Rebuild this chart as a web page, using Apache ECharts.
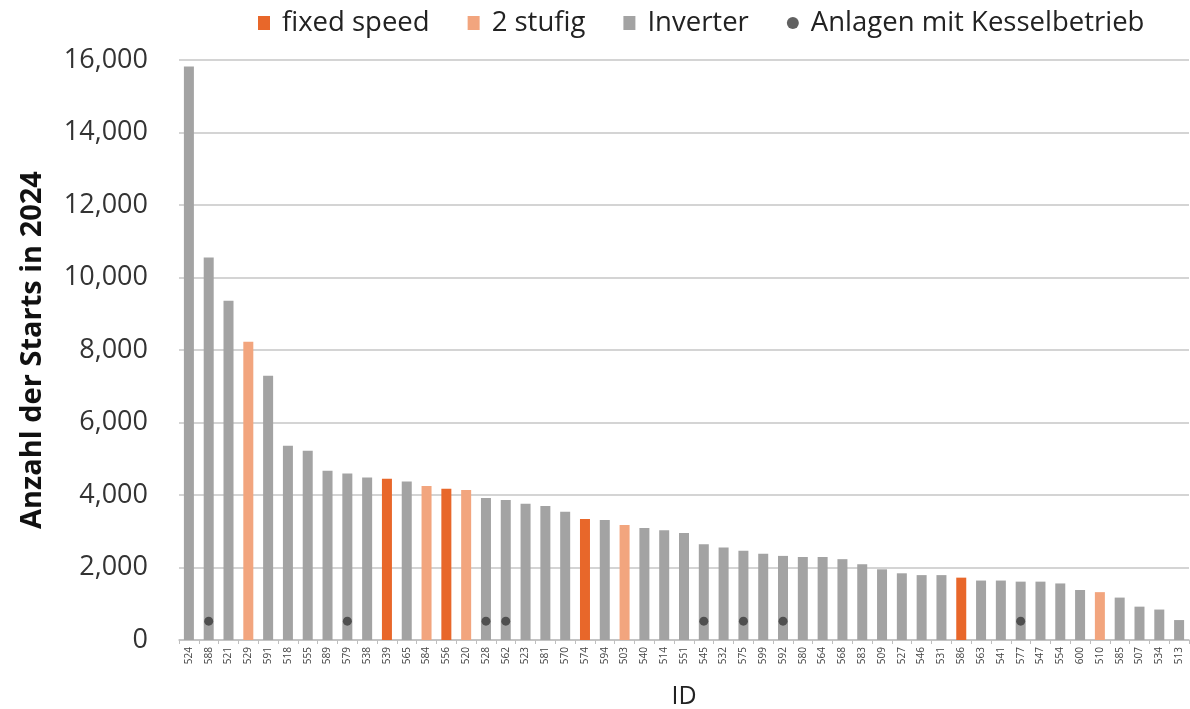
<!DOCTYPE html>
<html><head><meta charset="utf-8">
<script src="https://cdn.jsdelivr.net/npm/echarts@6/dist/echarts.min.js"></script>
<style>html,body{margin:0;padding:0;background:#fff}#c{width:1190px;height:709px}</style>
</head><body><div id="c"></div>
<script>
const ids = ['524','588','521','529','591','518','555','589','579','538','539','565','584','556','520','528','562','523','581','570','574','594','503','540','514','551','545','532','575','599','592','580','564','568','583','509','527','546','531','586','563','541','577','547','554','600','510','585','507','534','513'];
const starts = [15820,10550,9360,8230,7290,5360,5220,4670,4590,4480,4450,4370,4250,4170,4140,3920,3860,3760,3700,3540,3340,3310,3170,3090,3030,2950,2640,2550,2460,2380,2320,2290,2290,2230,2090,1950,1840,1790,1790,1720,1640,1640,1610,1610,1560,1380,1320,1170,920,840,550];
// F = fixed speed, S = 2 stufig, I = Inverter
const types = ['I','I','I','S','I','I','I','I','I','I','F','I','S','F','S','I','I','I','I','I','F','I','S','I','I','I','I','I','I','I','I','I','I','I','I','I','I','I','I','F','I','I','I','I','I','I','S','I','I','I','I'];
const kesselIds = ['588','579','528','562','545','575','592','577'];
const kesselLevel = 520;
const yTicks = {min:0, max:16000, interval:2000};

const font = '"Open Sans", "Noto Sans", sans-serif';
const pick = t => starts.map((v,i)=> types[i]===t ? v : '-');
const kessel = ids.map(id => kesselIds.includes(id) ? kesselLevel : '-');

const chart = echarts.init(document.getElementById('c'));
chart.setOption({
  animation:false,
  textStyle:{fontFamily:font},
  legend:{
    top:4, left:253, itemWidth:12, itemHeight:14, itemGap:38,
    textStyle:{fontSize:27.5, color:'#222', fontFamily:font, padding:[0,0,0,7]},
    data:[{name:'fixed speed',icon:'rect'},{name:'2 stufig',icon:'rect'},{name:'Inverter',icon:'rect'},{name:'Anlagen mit Kesselbetrieb',icon:'circle'}]
  },
  grid:{left:179, right:1, top:60, bottom:69, outerBoundsMode:'none', containLabel:false},
  xAxis:{
    type:'category', data:ids,
    name:'ID', nameLocation:'middle', nameGap:44,
    nameTextStyle:{fontSize:25, color:'#222', fontFamily:font},
    axisLine:{lineStyle:{color:'#bfbfbf', width:1.5}},
    axisTick:{show:true, alignWithLabel:false, lineStyle:{color:'#bfbfbf'}, length:4},
    axisLabel:{rotate:90, fontSize:10, color:'#444', margin:7, interval:0}
  },
  yAxis:{
    type:'value', min:yTicks.min, max:yTicks.max, interval:yTicks.interval,
    name:'Anzahl der Starts in 2024', nameLocation:'middle', nameGap:132,
    nameTextStyle:{fontSize:29, fontWeight:'bold', color:'#111', fontFamily:font},
    axisLine:{show:false}, axisTick:{show:false},
    axisLabel:{fontSize:27, color:'#333', margin:31, formatter:v=>v.toLocaleString('en-US')},
    splitLine:{lineStyle:{color:'#d4d4d4', width:2}}
  },
  series:[
    {name:'fixed speed', type:'bar', stack:'s', data:pick('F'), barWidth:10, itemStyle:{color:'#E8672A'}},
    {name:'2 stufig', type:'bar', stack:'s', data:pick('S'), barWidth:10, itemStyle:{color:'#F2A57E'}},
    {name:'Inverter', type:'bar', stack:'s', data:pick('I'), barWidth:10, itemStyle:{color:'#A3A3A3'}},
    {name:'Anlagen mit Kesselbetrieb', type:'scatter', data:kessel, symbolSize:9, itemStyle:{color:'#3a3a3a'}, z:5}
  ]
});
</script>
</body></html>
